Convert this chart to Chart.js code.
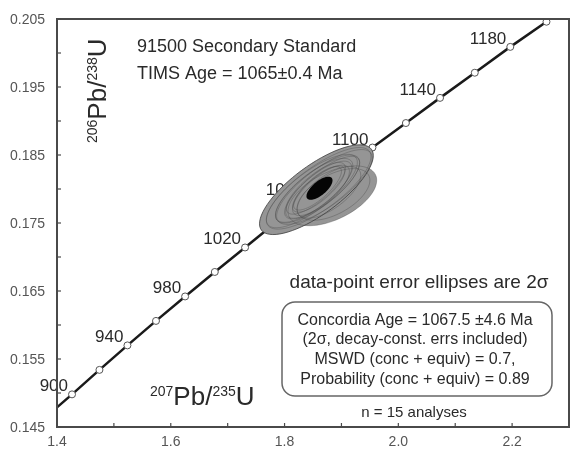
<!DOCTYPE html>
<html>
<head>
<meta charset="utf-8">
<script src="https://cdn.jsdelivr.net/npm/chart.js@4/dist/chart.umd.min.js"></script>
<style>
  body { margin: 0; background: #fff; }
  #wrap { width: 574px; height: 452px; }
</style>
</head>
<body>
<div id="wrap"><canvas id="myChart" width="574" height="452"></canvas></div>
<script>
'use strict';

// concordia age markers (Ma) and their ratios
var ages = [900, 920, 940, 960, 980, 1000, 1020, 1040, 1060, 1080, 1100, 1120, 1140, 1160, 1180, 1200];
var pb207u235 = [1.4264, 1.4746, 1.5238, 1.5740, 1.6252, 1.6774, 1.7306, 1.7850, 1.8404, 1.8969, 1.9545, 2.0133, 2.0733, 2.1344, 2.1968, 2.2604];
var pb206u238 = [0.1498, 0.1534, 0.1570, 0.1606, 0.1642, 0.1678, 0.1714, 0.1751, 0.1787, 0.1824, 0.1861, 0.1897, 0.1934, 0.1971, 0.2009, 0.2046];
var labelledAges = [900, 940, 980, 1020, 1060, 1100, 1140, 1180];
var curveStart = [1.4, 0.1479];

// analyses: centre, 2 sigma errors, error correlation
var ellX = [1.856, 1.884, 1.860, 1.848, 1.870, 1.886, 1.858, 1.852, 1.866, 1.878, 1.860, 1.855, 1.864, 1.860, 1.858];
var ellY = [0.1799, 0.1790, 0.1801, 0.1797, 0.1803, 0.1792, 0.1800, 0.1798, 0.1802, 0.1795, 0.1799, 0.1801, 0.1798, 0.1800, 0.1801];
var ellSX = [0.100, 0.078, 0.092, 0.080, 0.084, 0.064, 0.074, 0.068, 0.066, 0.056, 0.058, 0.052, 0.050, 0.046, 0.042];
var ellSY = [0.0066, 0.0044, 0.0060, 0.0054, 0.0055, 0.0038, 0.0050, 0.0047, 0.0046, 0.0038, 0.0042, 0.0038, 0.0037, 0.0034, 0.0032];
var ellRho = [0.76, 0.52, 0.78, 0.78, 0.78, 0.55, 0.78, 0.77, 0.79, 0.66, 0.77, 0.78, 0.75, 0.78, 0.78];

// concordia age ellipse
var concAge = [1.8614, 0.1801, 0.0229, 0.0017, 0.68];

var xTicks = [1.4, 1.5, 1.6, 1.7, 1.8, 1.9, 2.0, 2.1, 2.2];
var xTickLabels = ['1.4', '', '1.6', '', '1.8', '', '2.0', '', '2.2'];
var yTicks = [0.145, 0.150, 0.155, 0.160, 0.165, 0.170, 0.175, 0.180, 0.185, 0.190, 0.195, 0.200, 0.205];
var yTickLabels = ['0.145', '', '0.155', '', '0.165', '', '0.175', '', '0.185', '', '0.195', '', '0.205'];

var boxLines = ['Concordia Age = 1067.5 \u00b14.6 Ma', '(2\u03c3, decay-const. errs included)', 'MSWD (conc + equiv) = 0.7,', 'Probability (conc + equiv) = 0.89'];

var FONT = '"Liberation Sans", Arial, sans-serif';

var curve = [{x: curveStart[0], y: curveStart[1]}];
var radii = [0];
for (var i = 0; i < ages.length; i++) {
  curve.push({x: pb207u235[i], y: pb206u238[i]});
  radii.push(3.5);
}

function text(ctx, s, x, y, size, align, color) {
  ctx.font = size + 'px ' + FONT;
  ctx.textAlign = align || 'left';
  ctx.textBaseline = 'alphabetic';
  ctx.fillStyle = color || '#2a2a2a';
  ctx.fillText(s, x, y);
}

// isotope ratio label, even parts are superscripts
function isoLabel(ctx, parts, x, y, big, small) {
  var cx = x;
  for (var i = 0; i < parts.length; i++) {
    var sup = i % 2 === 0;
    ctx.font = (sup ? small : big) + 'px ' + FONT;
    ctx.fillStyle = '#2a2a2a';
    ctx.textAlign = 'left';
    ctx.fillText(parts[i], cx, sup ? y - 9 : y);
    cx += ctx.measureText(parts[i]).width;
  }
}

function ellipsePath(ctx, xs, ys, cx, cy, sx, sy, rho) {
  ctx.beginPath();
  var k = Math.sqrt(1 - rho * rho);
  for (var j = 0; j <= 72; j++) {
    var t = j / 72 * Math.PI * 2;
    var px = xs.getPixelForValue(cx + sx * Math.cos(t));
    var py = ys.getPixelForValue(cy + sy * (rho * Math.cos(t) + k * Math.sin(t)));
    if (j === 0) ctx.moveTo(px, py); else ctx.lineTo(px, py);
  }
  ctx.closePath();
}

var frame = {
  id: 'frame',
  beforeDatasetsDraw: function(chart) {
    var ctx = chart.ctx;
    var xs = chart.scales.x, ys = chart.scales.y;
    ctx.save();
    // age labels go under the ellipses
    for (var i = 0; i < labelledAges.length; i++) {
      var n = ages.indexOf(labelledAges[i]);
      var px = xs.getPixelForValue(pb207u235[n]);
      var py = ys.getPixelForValue(pb206u238[n]);
      text(ctx, String(labelledAges[i]), px - 4, py - 3, 17, 'right');
    }
    ctx.restore();
  },
  afterDatasetsDraw: function(chart) {
    var ctx = chart.ctx;
    var xs = chart.scales.x, ys = chart.scales.y;
    var a = chart.chartArea;
    ctx.save();

    // error ellipses
    for (var i = 0; i < ellX.length; i++) {
      ellipsePath(ctx, xs, ys, ellX[i], ellY[i], ellSX[i], ellSY[i], ellRho[i]);
      ctx.fillStyle = '#959595';
      ctx.fill();
    }
    for (i = 0; i < ellX.length; i++) {
      ellipsePath(ctx, xs, ys, ellX[i], ellY[i], ellSX[i], ellSY[i], ellRho[i]);
      ctx.strokeStyle = i === 0 ? 'rgba(60,60,60,0.8)' : 'rgba(70,70,70,0.35)';
      ctx.lineWidth = 1;
      ctx.stroke();
    }
    ellipsePath(ctx, xs, ys, concAge[0], concAge[1], concAge[2], concAge[3], concAge[4]);
    ctx.fillStyle = '#050505';
    ctx.fill();

    // frame
    ctx.strokeStyle = '#4a4a4a';
    ctx.lineWidth = 2;
    ctx.strokeRect(a.left, a.top, a.right - a.left, a.bottom - a.top);

    // inward ticks + labels
    ctx.lineWidth = 1.2;
    for (i = 0; i < xTicks.length; i++) {
      var tx = xs.getPixelForValue(xTicks[i]);
      ctx.beginPath();
      ctx.moveTo(tx, a.bottom);
      ctx.lineTo(tx, a.bottom - 4);
      ctx.stroke();
      if (xTickLabels[i]) text(ctx, xTickLabels[i], tx, a.bottom + 19, 14, 'center', '#555');
    }
    for (i = 0; i < yTicks.length; i++) {
      var ty = ys.getPixelForValue(yTicks[i]);
      ctx.beginPath();
      ctx.moveTo(a.left, ty);
      ctx.lineTo(a.left + 4, ty);
      ctx.stroke();
      if (yTickLabels[i]) text(ctx, yTickLabels[i], a.left - 12, ty + 5, 14, 'right', '#555');
    }

    // titles
    text(ctx, '91500 Secondary Standard', 137, 52, 18);
    text(ctx, 'TIMS Age = 1065\u00b10.4 Ma', 137, 79, 18);

    isoLabel(ctx, ['207', 'Pb/', '235', 'U'], 150, 405, 26, 14);
    ctx.save();
    ctx.translate(106, 143);
    ctx.rotate(-Math.PI / 2);
    isoLabel(ctx, ['206', 'Pb/', '238', 'U'], 0, 0, 26, 14);
    ctx.restore();

    text(ctx, 'data-point error ellipses are 2\u03c3', 419, 288, 19, 'center');

    // result box
    var bx = 282, by = 302, bw = 270, bh = 94, r = 13;
    ctx.beginPath();
    ctx.moveTo(bx + r, by);
    ctx.arcTo(bx + bw, by, bx + bw, by + bh, r);
    ctx.arcTo(bx + bw, by + bh, bx, by + bh, r);
    ctx.arcTo(bx, by + bh, bx, by, r);
    ctx.arcTo(bx, by, bx + bw, by, r);
    ctx.closePath();
    ctx.strokeStyle = '#666';
    ctx.lineWidth = 1.5;
    ctx.stroke();
    var lineY = [325, 344, 364, 384];
    for (i = 0; i < boxLines.length; i++) {
      text(ctx, boxLines[i], 415, lineY[i], 16, 'center');
    }
    text(ctx, 'n = 15 analyses', 414, 417, 15, 'center');
    ctx.restore();
  }
};

var ctx = document.getElementById('myChart').getContext('2d');
var chart = new Chart(ctx, {
  type: 'scatter',
  data: {
    datasets: [{
      label: 'Concordia',
      data: curve,
      showLine: true,
      borderColor: '#1a1a1a',
      borderWidth: 2.5,
      tension: 0,
      pointRadius: radii,
      pointBackgroundColor: '#fff',
      pointBorderColor: '#555',
      pointBorderWidth: 1
    }]
  },
  options: {
    responsive: false,
    animation: false,
    layout: { padding: { left: 57, top: 19, right: 4, bottom: 25 } },
    plugins: { legend: { display: false }, tooltip: { enabled: false } },
    scales: {
      x: { type: 'linear', min: 1.4, max: 2.3, display: false },
      y: { type: 'linear', min: 0.145, max: 0.205, display: false }
    }
  },
  plugins: [frame]
});
</script>
</body>
</html>
